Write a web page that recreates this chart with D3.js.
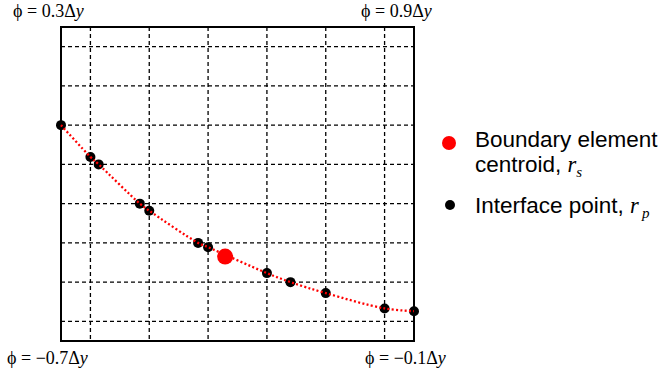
<!DOCTYPE html>
<html>
<head>
<meta charset="utf-8">
<script src="https://cdn.jsdelivr.net/npm/d3@7"></script>
<style>
  html, body { margin: 0; padding: 0; background: #fff; }
  svg { display: block; }
</style>
</head>
<body>
<script>
// Grid cell coordinates (cell units); grid lines sit at half-cell positions.
const gridX = [0.5, 1.5, 2.5, 3.5, 4.5, 5.5];
const gridY = [0.5, 1.5, 2.5, 3.5, 4.5, 5.5, 6.5, 7.5];

// Interface points where the zero level set crosses the cell lines.
const interfaceX = [0, 0.5, 0.64, 1.34, 1.5, 2.33, 2.5, 3.5, 3.90, 4.5, 5.5, 6];
const interfaceY = [5.5, 4.69, 4.5, 3.5, 3.32, 2.5, 2.39, 1.73, 1.5, 1.22, 0.83, 0.76];

// Boundary element centroid.
const centroidX = [2.79];
const centroidY = [2.15];

// Level set values at the four corners.
const cornerValues = ["0.3", "0.9", "\u22120.7", "\u22120.1"];

// Legend entries.
const legendLabels = ["Boundary element", "centroid, ", "Interface point, "];

const W = 671, H = 377;
const svg = d3.select("body").append("svg").attr("width", W).attr("height", H);

const x = d3.scaleLinear().domain([0, 6]).range([61, 414]);
const y = d3.scaleLinear().domain([0, 8]).range([341, 27]);

// Dashed grid
const grid = svg.append("g").attr("stroke", "#000").attr("stroke-width", 1.3)
  .attr("stroke-dasharray", "4,3");
grid.selectAll("line.v").data(gridX).join("line").attr("class", "v")
  .attr("x1", d => x(d)).attr("x2", d => x(d)).attr("y1", y(8)).attr("y2", y(0));
grid.selectAll("line.h").data(gridY).join("line").attr("class", "h")
  .attr("x1", x(0)).attr("x2", x(6)).attr("y1", d => y(d)).attr("y2", d => y(d));

// Frame
svg.append("rect").attr("x", x(0)).attr("y", y(8))
  .attr("width", x(6) - x(0)).attr("height", y(0) - y(8))
  .attr("fill", "none").attr("stroke", "#000").attr("stroke-width", 2);

const pts = interfaceX.map((d, i) => [d, interfaceY[i]]);

// Interface points
svg.append("g").selectAll("circle").data(pts).join("circle")
  .attr("cx", d => x(d[0])).attr("cy", d => y(d[1])).attr("r", 5).attr("fill", "#000");

// Interface curve (dotted red)
const line = d3.line().x(d => x(d[0])).y(d => y(d[1])).curve(d3.curveCatmullRom.alpha(0.5));
svg.append("path").datum(pts).attr("d", line)
  .attr("fill", "none").attr("stroke", "#ff0000").attr("stroke-width", 2.3)
  .attr("stroke-dasharray", "2,2.3");

// Centroid
svg.append("g").selectAll("circle").data(centroidX.map((d, i) => [d, centroidY[i]])).join("circle")
  .attr("cx", d => x(d[0])).attr("cy", d => y(d[1])).attr("r", 8).attr("fill", "#ff0000");

// Corner labels
const cornerPos = [[13, 17], [361, 17], [7, 364], [365, 364]];
cornerValues.forEach((v, i) => {
  const t = svg.append("text").attr("x", cornerPos[i][0]).attr("y", cornerPos[i][1])
    .attr("font-family", "Liberation Serif, Times New Roman, serif").attr("font-size", 18)
    .attr("fill", "#000");
  t.append("tspan").text("\u03D5 = " + v + "\u0394");
  t.append("tspan").attr("font-style", "italic").text("y");
});

// Legend
const leg = svg.append("g").attr("font-family", "Liberation Sans, Arial, sans-serif")
  .attr("font-size", 22.5).attr("fill", "#000");
leg.append("circle").attr("cx", 449).attr("cy", 143).attr("r", 7).attr("fill", "#ff0000");
leg.append("circle").attr("cx", 450).attr("cy", 205).attr("r", 5).attr("fill", "#000");
leg.append("text").attr("x", 475).attr("y", 147).text(legendLabels[0]);
const t2 = leg.append("text").attr("x", 475).attr("y", 172);
t2.append("tspan").text(legendLabels[1]);
t2.append("tspan").attr("font-family", "Liberation Serif, Times New Roman, serif")
  .attr("font-style", "italic").text("r");
t2.append("tspan").attr("font-family", "Liberation Serif, Times New Roman, serif")
  .attr("font-style", "italic").attr("font-size", 15).attr("dy", 5).text("s");
const t3 = leg.append("text").attr("x", 475).attr("y", 213);
t3.append("tspan").text(legendLabels[2]);
t3.append("tspan").attr("font-family", "Liberation Serif, Times New Roman, serif")
  .attr("font-style", "italic").text("r");
t3.append("tspan").attr("font-family", "Liberation Serif, Times New Roman, serif")
  .attr("font-style", "italic").attr("font-size", 15).attr("dx", 3).attr("dy", 5).text("p");
</script>
</body>
</html>
